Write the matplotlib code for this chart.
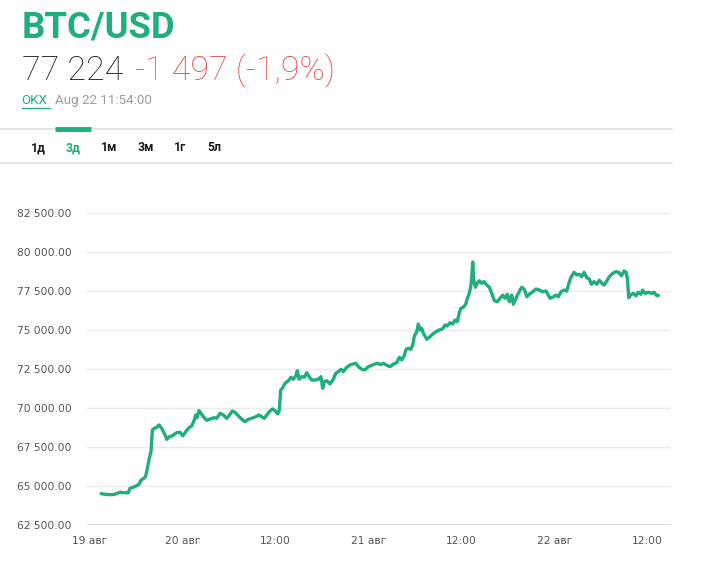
# BTC/USD 3-day chart (RBC style)

import matplotlib
matplotlib.use("Agg")
import matplotlib.pyplot as plt
from matplotlib.ticker import FuncFormatter

# 1) DATA  (hours counted from 19 Aug 00:00, price in USD)

hours = [13.46, 13.97, 14.84, 15.35, 15.91, 16.34, 16.98, 17.20, 17.63, 18.06,
         18.36, 18.62, 19.04, 19.23, 19.48, 19.69, 19.91, 20.08, 20.34, 20.65,
         20.94, 21.29, 21.72, 21.94, 22.23, 22.66, 23.23, 23.65, 24.00, 24.39,
         24.81, 25.16, 25.50, 25.68, 25.85, 26.10, 26.36, 26.66, 27.10, 27.52,
         28.08, 28.39, 28.81, 29.24, 29.68, 29.97, 30.40, 30.75, 31.17, 31.61,
         32.04, 32.46, 32.90, 33.42, 33.85, 34.19, 34.53, 34.84, 35.17, 35.56,
         35.91, 36.26, 36.46, 36.64, 36.85, 37.20, 37.63, 37.97, 38.27, 38.58,
         38.79, 39.01, 39.36, 39.69, 40.00, 40.30, 40.65, 41.07, 41.50, 41.84,
         42.06, 42.27, 42.58, 43.01, 43.43, 43.74, 44.08, 44.43, 44.72, 45.16,
         45.59, 46.01, 46.32, 46.66, 47.10, 47.52, 47.95, 48.39, 48.81, 49.11,
         49.55, 49.88, 50.32, 50.75, 51.17, 51.61, 51.95, 52.26, 52.56, 52.81,
         53.11, 53.42, 53.68, 53.88, 54.19, 54.40, 54.62, 54.84, 55.05, 55.49,
         55.82, 56.26, 56.68, 57.11, 57.55, 57.84, 58.14, 58.49, 58.84, 59.13,
         59.43, 59.65, 59.87, 60.21, 60.52, 60.72, 60.94, 61.16, 61.29, 61.42,
         61.55, 61.76, 62.01, 62.27, 62.58, 62.88, 63.23, 63.56, 63.87, 64.21,
         64.59, 64.94, 65.29, 65.59, 65.88, 66.14, 66.45, 66.66, 67.01, 67.30,
         67.74, 68.08, 68.39, 68.72, 69.16, 69.59, 70.01, 70.45, 70.88, 71.17,
         71.39, 71.82, 72.17, 72.47, 72.81, 73.20, 73.55, 73.76, 74.06, 74.49,
         74.84, 75.17, 75.48, 75.78, 76.13, 76.46, 76.72, 77.07, 77.42, 77.75,
         78.06, 78.36, 78.71, 79.05, 79.48, 79.91, 80.26, 80.59, 80.94, 81.20,
         81.37, 81.55, 81.79, 82.13, 82.49, 82.78, 83.10, 83.35, 83.65, 84.08,
         84.52, 84.81, 85.16, 85.37]

price = [64510, 64470, 64440, 64490, 64600, 64570, 64570, 64850, 64920, 65020,
         65110, 65380, 65510, 65640, 66240, 66780, 67200, 68590, 68700, 68760,
         68910, 68700, 68270, 67990, 68140, 68220, 68420, 68440, 68220, 68480,
         68740, 68850, 69230, 69550, 69380, 69830, 69660, 69440, 69210, 69290,
         69380, 69340, 69660, 69550, 69340, 69510, 69810, 69720, 69500, 69280,
         69120, 69280, 69340, 69440, 69550, 69440, 69340, 69550, 69760, 69940,
         69830, 69620, 69870, 71150, 71260, 71580, 71750, 71970, 71840, 72050,
         72390, 71840, 72010, 71970, 72260, 72010, 71790, 71790, 71840, 72010,
         71260, 71690, 71750, 71540, 71840, 72220, 72330, 72480, 72330, 72610,
         72760, 72820, 72870, 72650, 72480, 72440, 72650, 72740, 72820, 72870,
         72780, 72870, 72740, 72650, 72820, 72900, 73250, 73080, 73330, 73760,
         73830, 73760, 74040, 74610, 74890, 75380, 75000, 75110, 74790, 74400,
         74530, 74740, 74890, 75000, 75080, 75320, 75260, 75470, 75380, 75640,
         75530, 76030, 76390, 76450, 76670, 77030, 77290, 77780, 78380, 79360,
         78200, 77740, 77990, 78160, 77990, 78100, 77880, 77740, 77350, 76880,
         76810, 77020, 77240, 77030, 77290, 76810, 77240, 76650, 77030, 77350,
         77740, 77610, 77130, 77290, 77450, 77630, 77560, 77450, 77500, 77240,
         77030, 77130, 77240, 77130, 77450, 77560, 77500, 77880, 78350, 78700,
         78530, 78570, 78420, 78700, 78350, 78270, 77930, 78100, 77930, 78190,
         78010, 77880, 78140, 78420, 78630, 78740, 78700, 78480, 78780, 78700,
         78310, 77070, 77240, 77350, 77200, 77420, 77290, 77560, 77350, 77420,
         77350, 77420, 77200, 77224]

tick_hours = [12, 24, 36, 48, 60, 72, 84]
tick_labels = ["19 авг", "20 авг", "12:00", "21 авг", "12:00", "22 авг", "12:00"]
y_ticks = [62500, 65000, 67500, 70000, 72500, 75000, 77500, 80000, 82500]

tabs = ["1д", "3д", "1м", "3м", "1г", "5л"]
tab_x = [38, 73.5, 109, 145.5, 180, 214]

GREEN = "#1fae7c"
RED = "#e8484b"

# 2) FIGURE

W, H = 711, 578
fig = plt.figure(figsize=(W / 100, H / 100), dpi=100)
fig.patch.set_facecolor("white")

# header drawn in pixel coordinates
hdr = fig.add_axes([0, 0, 1, 1])
hdr.set_xlim(0, W)
hdr.set_ylim(H, 0)
hdr.axis("off")

hdr.text(22, 38, "BTC/USD", family="Roboto", weight="bold", fontsize=26.3,
         color=GREEN, va="baseline", ha="left")
hdr.text(22, 80, "77 224", family="Roboto", weight="light", fontsize=24.5,
         color="#1c1c1c", va="baseline", ha="left")
hdr.text(135, 80, "-1 497 (-1,9%)", family="Roboto", weight="light",
         fontsize=24.5, color=RED, va="baseline", ha="left")

hdr.text(21.5, 104, "OKX", family="Roboto", fontsize=9.6, color=GREEN,
         va="baseline", ha="left")
hdr.plot([21.5, 50], [107.5, 107.5], color=GREEN, lw=0.9)
hdr.text(55, 104, "Aug 22 11:54:00", family="Roboto", fontsize=9.6,
         color="#9c9c9c", va="baseline", ha="left")

# tab bar
hdr.plot([0, 672], [128.5, 128.5], color="#dedede", lw=1.1)
hdr.plot([0, 672], [163, 163], color="#dedede", lw=1.1)
hdr.plot([55, 91], [128.5, 128.5], color=GREEN, lw=3.5, solid_capstyle="butt")
for lab, x in zip(tabs, tab_x):
    hdr.text(x, 151, lab, family="Roboto", weight="bold", fontsize=8.8,
             color=GREEN if lab == "3д" else "#1c1c1c",
             va="baseline", ha="center")

# 3) CHART

x0, x1 = 11.65, 87.0
ax = fig.add_axes([87 / W, 1 - 525 / H, (671 - 87) / W, (525 - 197.4) / H])
ax.set_xlim(x0, x1)
ax.set_ylim(62500, 83500)

for v in y_ticks:
    ax.axhline(v, color="#dcdcdc" if v == 62500 else "#ebebeb",
               lw=1.3 if v == 62500 else 1.0, zorder=1)

ax.plot(hours, price, color=GREEN, lw=2.4, solid_joinstyle="round",
        solid_capstyle="round", zorder=3)

for s in ax.spines.values():
    s.set_visible(False)

ax.set_yticks(y_ticks)
ax.yaxis.set_major_formatter(
    FuncFormatter(lambda v, p: f"{v:,.2f}".replace(",", " ")))
ax.set_xticks(tick_hours)
ax.set_xticklabels(tick_labels)
ax.tick_params(axis="y", length=0, pad=11, labelsize=7.7, labelcolor="#555555")
ax.tick_params(axis="x", length=0, pad=8, labelsize=7.7, labelcolor="#555555")
ax.set_facecolor("none")

fig.savefig("out.png", dpi=100, facecolor="white")
